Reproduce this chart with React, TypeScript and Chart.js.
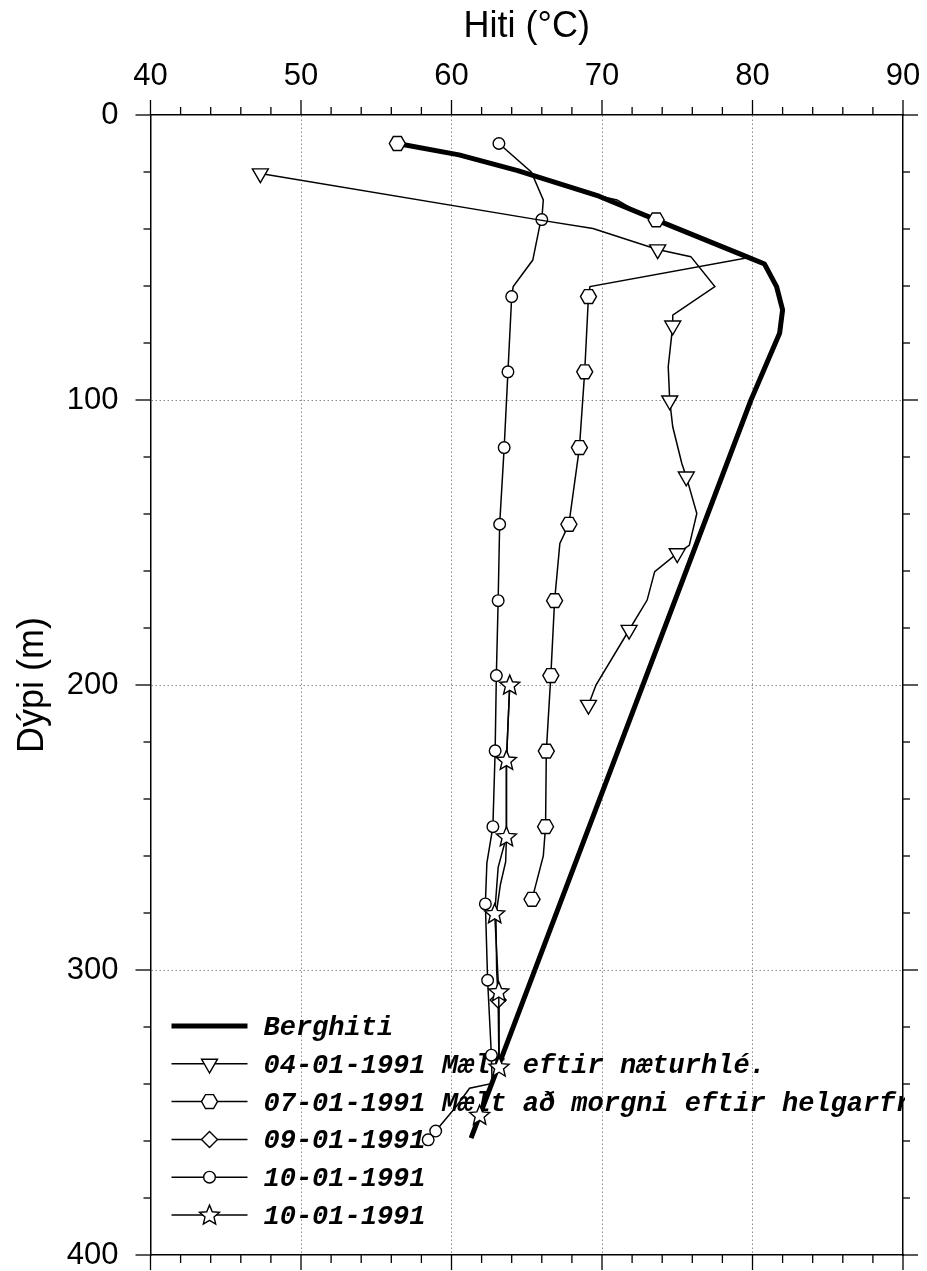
import React, { useEffect, useRef } from 'react';
import { Chart, registerables } from 'chart.js';
import { drawPoint } from 'chart.js/helpers';

Chart.register(...registerables);

// ---------- axis ticks ----------
const xTickValues = [40, 50, 60, 70, 80, 90];
const yTickValues = [0, 100, 200, 300, 400];
const xMinorStep = 2;
const yMinorStep = 20;

// ---------- legend labels ----------
const seriesLabels = [
  'Berghiti',
  '04-01-1991 Mælt eftir næturhlé.',
  '07-01-1991 Mælt að morgni eftir helgarfrí.',
  '09-01-1991',
  '10-01-1991',
  '10-01-1991',
];

// ---------- Berghiti (rock temperature) ----------
const berghitiT = [56.4, 60.5, 64.4, 69.8, 73.6, 79.6, 80.8, 81.6, 82.0, 81.8, 79.9, 61.3];
const berghitiD = [10, 14, 19.5, 28.5, 36.8, 49.7, 52.3, 60.2, 68.4, 76.6, 100, 359];

// ---------- 04-01-1991 ----------
const s0401T = [47.3, 65.8, 69.4, 73.7, 75.9, 77.5, 74.7, 74.7, 74.4, 74.5, 74.7, 75.3, 75.6, 76.3, 75.8, 75.0, 73.5, 73.0, 71.8, 69.6, 69.1];
const s0401D = [20.5, 36.8, 39.8, 47.2, 49.7, 60.2, 70.2, 73.9, 88.3, 100.2, 109.4, 122.2, 126.9, 139.8, 151, 153.8, 160.2, 170.2, 180.7, 200, 207];
const s0401Mark = [1, 0, 0, 1, 0, 0, 0, 1, 0, 1, 0, 0, 1, 0, 0, 1, 0, 0, 1, 0, 1];

// ---------- 07-01-1991 ----------
const s0701T = [56.4, 60.5, 64.4, 69.3, 71.0, 72.9, 73.6, 79.6, 69.2, 69.1, 68.85, 68.5, 67.8, 67.2, 66.85, 66.6, 66.3, 66.25, 66.1, 65.35];
const s0701D = [10, 14, 19.5, 27.8, 29.8, 35.7, 36.8, 50.2, 60.2, 63.7, 90.1, 116.7, 143.6, 150.3, 170.4, 196.7, 223.2, 249.7, 260, 275.2];
const s0701Mark = [1, 0, 0, 0, 0, 0, 1, 0, 0, 1, 1, 1, 1, 0, 1, 1, 1, 1, 0, 1];

// ---------- 09-01-1991 ----------
const s0901T = [63.87, 63.65, 63.65, 63.6, 63.25, 62.95, 63.0, 63.1, 63.15];
const s0901D = [200, 226.5, 253.2, 262, 270, 281, 300, 310.5, 332];
const s0901Mark = [0, 0, 0, 0, 0, 0, 0, 1, 0];

// ---------- 10-01-1991 (circles) ----------
const s1001aT = [63.15, 65.3, 66.1, 66.0, 65.85, 65.4, 64.1, 64.0, 63.75, 63.5, 63.2, 63.1, 62.98, 62.9, 62.75, 62.35, 62.25, 62.4, 62.65, 62.7, 61.2, 60.3, 58.95, 58.45];
const s1001aD = [10, 20, 29.8, 36.7, 39.2, 50.9, 60.2, 63.7, 90.1, 116.7, 143.6, 170.4, 196.7, 223.1, 249.7, 262.5, 276.8, 303.6, 329.9, 339.8, 341.5, 348, 356.5, 359.6];
const s1001aMark = [1, 0, 0, 1, 0, 0, 0, 1, 1, 1, 1, 1, 1, 1, 1, 0, 1, 1, 1, 0, 0, 0, 1, 1];

// ---------- 10-01-1991 (stars) ----------
const s1001bT = [63.87, 63.65, 63.65, 63.1, 62.87, 63.14, 63.16, 61.87];
const s1001bD = [200, 226.4, 253.2, 264, 280.2, 307.6, 334, 350.9];
const s1001bMark = [1, 1, 1, 0, 1, 1, 1, 1];

const toPoints = (t: number[], d: number[]) => t.map((v, i) => ({ x: v, y: d[i] }));

function pathHexagon(ctx: CanvasRenderingContext2D, x: number, y: number, r: number) {
  ctx.beginPath();
  for (let k = 0; k < 6; k++) {
    const a = (k * Math.PI) / 3;
    const px = x + r * Math.cos(a);
    const py = y + r * Math.sin(a);
    if (k === 0) ctx.moveTo(px, py);
    else ctx.lineTo(px, py);
  }
  ctx.closePath();
}

function pathStar(ctx: CanvasRenderingContext2D, x: number, y: number, R: number) {
  const ratio = 0.45;
  const cy = y + R * 0.06;
  ctx.beginPath();
  for (let k = 0; k < 10; k++) {
    const a = -Math.PI / 2 + (k * Math.PI) / 5;
    const rr = k % 2 === 0 ? R : R * ratio;
    const px = x + rr * Math.cos(a);
    const py = cy + rr * Math.sin(a);
    if (k === 0) ctx.moveTo(px, py);
    else ctx.lineTo(px, py);
  }
  ctx.closePath();
}

function drawShape(ctx: CanvasRenderingContext2D, shape: string, x: number, y: number, r: number) {
  ctx.save();
  ctx.setLineDash([]);
  ctx.fillStyle = '#fff';
  ctx.strokeStyle = '#000';
  ctx.lineWidth = 1.4;
  ctx.lineJoin = 'miter';
  if (shape === 'hex') pathHexagon(ctx, x, y, r);
  else pathStar(ctx, x, y, r);
  ctx.fill();
  ctx.stroke();
  ctx.restore();
}

export default function App() {
  const canvasRef = useRef<HTMLCanvasElement | null>(null);

  useEffect(() => {
    if (!canvasRef.current) return;

    const markR = (marks: number[], r: number) => (ctx: any) => (marks[ctx.dataIndex] ? r : 0);

    // custom-drawn marker shapes (dataset index -> spec)
    const shapeSpecs: Record<number, { shape: string; r: number; marks: number[] }> = {
      2: { shape: 'hex', r: 8, marks: s0701Mark },
      5: { shape: 'star', r: 10.5, marks: s1001bMark },
    };

    const legendMarkers: any[] = [
      null,
      { pointStyle: 'triangle', radius: 9.2, rotation: 180 },
      { shape: 'hex', radius: 8 },
      { pointStyle: 'rectRot', radius: 8, rotation: 0 },
      { pointStyle: 'circle', radius: 5.8, rotation: 0 },
      { shape: 'star', radius: 10.5 },
    ];

    const thin = {
      showLine: true,
      borderColor: '#000',
      borderWidth: 1.5,
      pointBackgroundColor: '#fff',
      pointBorderColor: '#000',
      pointBorderWidth: 1.4,
      fill: false,
      tension: 0,
    };

    const datasets: any[] = [
      {
        label: seriesLabels[0],
        data: toPoints(berghitiT, berghitiD),
        showLine: true,
        borderColor: '#000',
        borderWidth: 5,
        pointRadius: 0,
        borderJoinStyle: 'round',
        order: 10,
      },
      {
        ...thin,
        label: seriesLabels[1],
        data: toPoints(s0401T, s0401D),
        pointStyle: 'triangle',
        pointRotation: 180,
        pointRadius: markR(s0401Mark, 9.2),
        order: 1,
      },
      {
        ...thin,
        label: seriesLabels[2],
        data: toPoints(s0701T, s0701D),
        pointRadius: 0,
        order: 1,
      },
      {
        ...thin,
        label: seriesLabels[3],
        data: toPoints(s0901T, s0901D),
        pointStyle: 'rectRot',
        pointRadius: markR(s0901Mark, 8),
        order: 1,
      },
      {
        ...thin,
        label: seriesLabels[4],
        data: toPoints(s1001aT, s1001aD),
        pointStyle: 'circle',
        pointRadius: markR(s1001aMark, 5.8),
        order: 1,
      },
      {
        ...thin,
        label: seriesLabels[5],
        data: toPoints(s1001bT, s1001bD),
        pointRadius: 0,
        order: -1,
      },
    ];

    const shapeMarkers = {
      id: 'shapeMarkers',
      afterDatasetsDraw(chart: any) {
        const { ctx, chartArea: a } = chart;
        ctx.save();
        ctx.beginPath();
        ctx.rect(a.left, a.top, a.right - a.left, a.bottom - a.top);
        ctx.clip();
        Object.keys(shapeSpecs).forEach((key) => {
          const idx = Number(key);
          const spec = shapeSpecs[idx];
          const meta = chart.getDatasetMeta(idx);
          meta.data.forEach((el: any, j: number) => {
            if (spec.marks[j]) drawShape(ctx, spec.shape, el.x, el.y, spec.r);
          });
        });
        ctx.restore();
      },
    };

    const outerTicks = {
      id: 'outerTicks',
      afterDraw(chart: any) {
        const { ctx, chartArea: a, scales } = chart;
        ctx.save();
        ctx.strokeStyle = '#000';
        ctx.lineWidth = 1.3;
        ctx.setLineDash([]);
        const seg = (x1: number, y1: number, x2: number, y2: number) => {
          ctx.beginPath();
          ctx.moveTo(x1, y1);
          ctx.lineTo(x2, y2);
          ctx.stroke();
        };
        const xs = scales.x;
        const x0 = xTickValues[0];
        const x1 = xTickValues[xTickValues.length - 1];
        for (let v = x0; v <= x1 + 1e-9; v += xMinorStep) {
          const px = xs.getPixelForValue(v);
          const major = xTickValues.some((t) => Math.abs(t - v) < 1e-6);
          const len = major ? 15 : 8;
          seg(px, a.top, px, a.top - len);
          seg(px, a.bottom, px, a.bottom + len);
        }
        const ys = scales.y;
        const y0 = yTickValues[0];
        const y1 = yTickValues[yTickValues.length - 1];
        for (let v = y0; v <= y1 + 1e-9; v += yMinorStep) {
          const py = ys.getPixelForValue(v);
          const major = yTickValues.some((t) => Math.abs(t - v) < 1e-6);
          const len = major ? 15 : 7;
          seg(a.left, py, a.left - len, py);
          seg(a.right, py, a.right + len, py);
        }
        ctx.restore();
      },
    };

    const insetLegend = {
      id: 'insetLegend',
      beforeDatasetsDraw(chart: any) {
        const { ctx, chartArea: a } = chart;
        ctx.save();
        ctx.beginPath();
        ctx.rect(a.left, a.top, a.right - a.left + 2, a.bottom - a.top);
        ctx.clip();
        chart.data.datasets.forEach((ds: any, i: number) => {
          const y = a.bottom - 229 + i * 37.8;
          const lx0 = a.left + 21;
          const lx1 = a.left + 97;
          const xm = (lx0 + lx1) / 2;
          ctx.setLineDash([]);
          ctx.strokeStyle = '#000';
          ctx.lineWidth = ds.borderWidth;
          ctx.beginPath();
          ctx.moveTo(lx0, y);
          ctx.lineTo(lx1, y);
          ctx.stroke();
          const m = legendMarkers[i];
          if (m && m.shape) {
            drawShape(ctx, m.shape, xm, y, m.radius);
          } else if (m) {
            ctx.fillStyle = '#fff';
            ctx.strokeStyle = '#000';
            ctx.lineWidth = 1.4;
            drawPoint(ctx, { pointStyle: m.pointStyle, radius: m.radius, rotation: m.rotation, borderWidth: 1.4 } as any, xm, y);
          }
          ctx.fillStyle = '#000';
          ctx.font = "italic bold 27px 'Liberation Mono', 'Courier New', monospace";
          ctx.textBaseline = 'alphabetic';
          ctx.textAlign = 'left';
          ctx.fillText(ds.label, a.left + 113, y + 9);
        });
        ctx.restore();
      },
    };

    const gridColor = (edges: number[]) => (c: any) =>
      c.tick && edges.includes(c.tick.value) ? 'rgba(0,0,0,0)' : '#8a8a8a';
    const clear = 'rgba(0,0,0,0)';

    const chart = new Chart(canvasRef.current, {
      type: 'scatter',
      data: { datasets },
      options: {
        animation: false,
        responsive: true,
        maintainAspectRatio: false,
        events: [],
        layout: { padding: 0 },
        plugins: {
          legend: { display: false },
          tooltip: { enabled: false },
        },
        scales: {
          x: {
            type: 'linear',
            position: 'top',
            min: xTickValues[0],
            max: xTickValues[xTickValues.length - 1],
            afterBuildTicks: (s: any) => {
              s.ticks = xTickValues.map((v) => ({ value: v }));
            },
            afterFit: (s: any) => {
              s.height = 115;
            },
            grid: { color: gridColor([40, 90]), lineWidth: 1, drawTicks: true, tickLength: 20, tickColor: clear },
            border: { display: true, color: '#000', width: 1.5, dash: [1.5, 2.5] },
            ticks: {
              color: '#000',
              padding: 0,
              maxRotation: 0,
              autoSkip: false,
              font: { family: "'Liberation Sans', Arial, sans-serif", size: 31 },
            },
            title: {
              display: true,
              text: 'Hiti (°C)',
              color: '#000',
              padding: { top: 5, bottom: 0 },
              font: { family: "'Liberation Sans', Arial, sans-serif", size: 36 },
            },
          },
          x2: {
            type: 'linear',
            position: 'bottom',
            min: xTickValues[0],
            max: xTickValues[xTickValues.length - 1],
            afterFit: (s: any) => {
              s.height = 16;
            },
            grid: { display: false, drawTicks: false },
            border: { display: true, color: '#000', width: 1.5 },
            ticks: { display: false, padding: 0 },
          },
          y: {
            type: 'linear',
            position: 'left',
            reverse: true,
            min: yTickValues[0],
            max: yTickValues[yTickValues.length - 1],
            afterBuildTicks: (s: any) => {
              s.ticks = yTickValues.map((v) => ({ value: v }));
            },
            afterFit: (s: any) => {
              s.width = 150.5;
            },
            grid: { color: gridColor([0, 400]), lineWidth: 1, drawTicks: true, tickLength: 32, tickColor: clear },
            border: { display: true, color: '#000', width: 1.5, dash: [1.5, 2.5] },
            ticks: {
              color: '#000',
              padding: 0,
              autoSkip: false,
              font: { family: "'Liberation Sans', Arial, sans-serif", size: 31, lineHeight: 1 },
            },
            title: {
              display: true,
              text: 'Dýpi (m)',
              color: '#000',
              padding: { top: 11, bottom: 0 },
              font: { family: "'Liberation Sans', Arial, sans-serif", size: 36 },
            },
          },
          y2: {
            type: 'linear',
            position: 'right',
            reverse: true,
            min: yTickValues[0],
            max: yTickValues[yTickValues.length - 1],
            afterFit: (s: any) => {
              s.width = 24;
            },
            grid: { display: false, drawTicks: false },
            border: { display: true, color: '#000', width: 1.5 },
            ticks: { display: false, padding: 0 },
          },
        },
      } as any,
      plugins: [outerTicks, insetLegend, shapeMarkers],
    });
    return () => chart.destroy();
  }, []);

  return (
    <div
      style={{
        position: 'fixed',
        left: 0,
        top: 0,
        width: 927,
        height: 1271,
        background: '#fff',
      }}
    >
      <canvas ref={canvasRef} />
    </div>
  );
}
